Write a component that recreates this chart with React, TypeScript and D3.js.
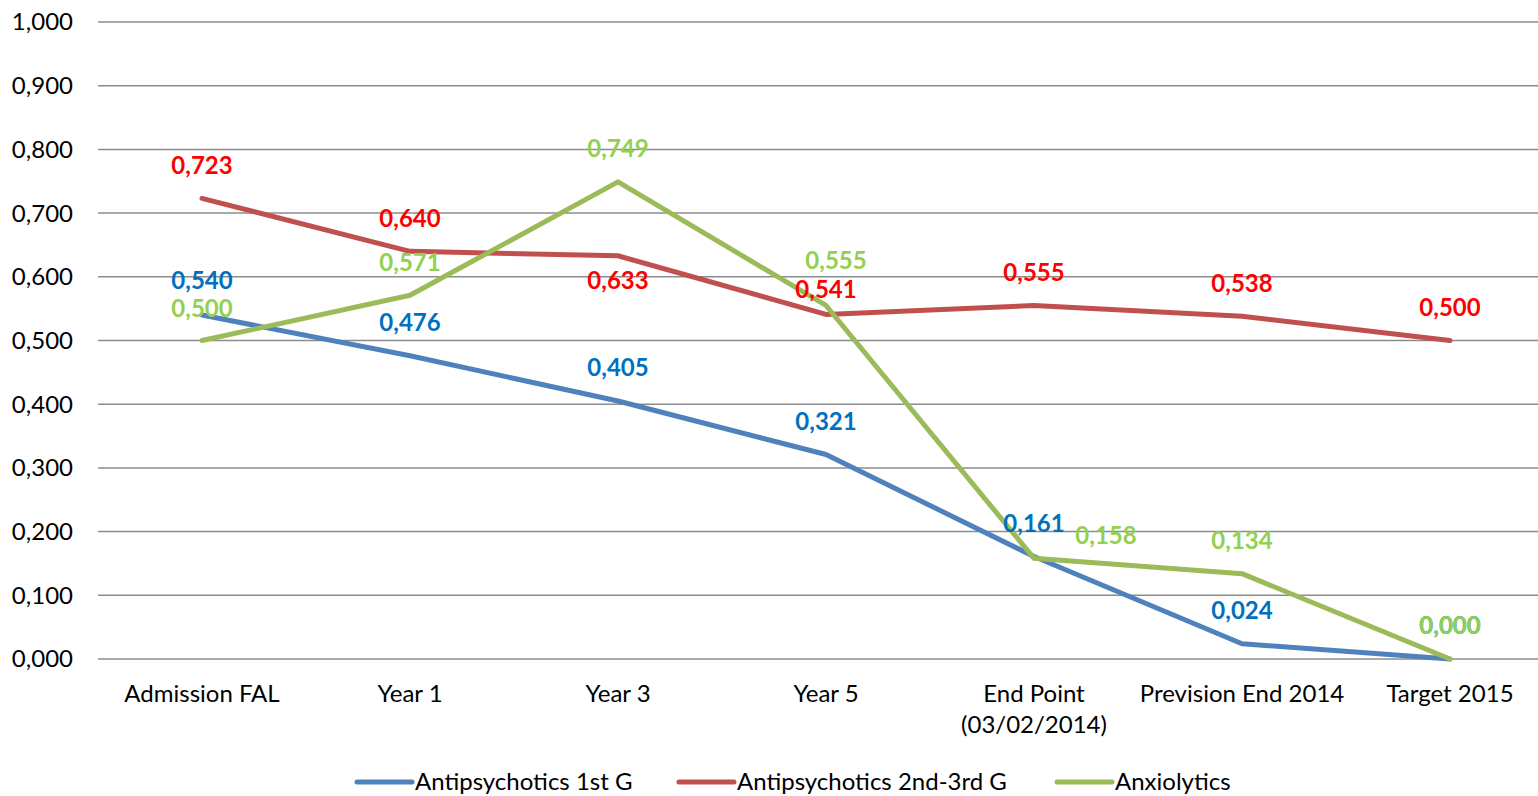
import React from "react";
import * as d3 from "d3";

const categories = ["Admission FAL", "Year 1", "Year 3", "Year 5", "End Point\n(03/02/2014)", "Prevision End 2014", "Target 2015"];
const seriesNames = ["Antipsychotics 1st G", "Antipsychotics 2nd-3rd G", "Anxiolytics"];
const ap1 = [0.540, 0.476, 0.405, 0.321, 0.161, 0.024, 0.000];
const ap23 = [0.723, 0.640, 0.633, 0.541, 0.555, 0.538, 0.500];
const anx = [0.500, 0.571, 0.749, 0.555, 0.158, 0.134, 0.000];
const yTicks = [0, 0.1, 0.2, 0.3, 0.4, 0.5, 0.6, 0.7, 0.8, 0.9, 1.0];

const lineColors = ["#4F81BD", "#C0504D", "#9BBB59"];
const labelColors = ["#0070C0", "#FF0000", "#92D050"];
// label offsets [dx, dy] relative to point (styling only)
const labelOffsets: [number, number][][] = [
  [[0, -34], [0, -33], [0, -33], [0, -33], [0, -33], [0, -33], [0, -33]],
  [[0, -33], [0, -33], [0, 25], [0, -25], [0, -33], [0, -33], [0, -33]],
  [[0, -32], [0, -33], [0, -33], [10, -45], [72, -23], [0, -33], [0, -33]],
];

const fmt = (v: number) => v.toFixed(3).replace(".", ",");
const fmtTick = (v: number) => (v >= 1 ? "1,000" : v.toFixed(3).replace(".", ","));

export default function App() {
  const W = 1538, H = 796;
  const left = 98, bandW = 208;
  const x = d3.scaleBand<string>().domain(categories).range([left, left + bandW * categories.length]);
  const y = d3.scaleLinear().domain([0, 1]).range([659, 22]);
  const cx = (c: string) => (x(c) as number) + x.bandwidth() / 2;
  const line = d3.line<number>().x((_, i) => cx(categories[i])).y((d) => y(d));
  const all = [ap1, ap23, anx];
  const font = "Lato, 'Open Sans', sans-serif";
  const fs = 24;
  const legendX = [357, 679, 1057];
  return (
    <svg width={W} height={H} style={{ position: "absolute", left: 0, top: 0, background: "#fff" }} fontFamily={font}>
      {yTicks.map((t) => (
        <g key={t}>
          <line x1={left} x2={W} y1={y(t)} y2={y(t)} stroke="#8c8c8c" strokeWidth={1.5} />
          <text x={73} y={y(t)} dy="0.35em" textAnchor="end" fontSize={fs} fill="#000">{fmtTick(t)}</text>
        </g>
      ))}
      {categories.map((c) => (
        <text key={c} x={cx(c)} y={694} textAnchor="middle" fontSize={fs} fill="#000">
          {c.split("\n").map((s, i) => (
            <tspan key={i} x={cx(c)} dy={i === 0 ? "0.35em" : 31}>{s}</tspan>
          ))}
        </text>
      ))}
      {all.map((vals, si) => (
        <path key={si} d={line(vals) as string} fill="none" stroke={lineColors[si]} strokeWidth={5} strokeLinejoin="round" strokeLinecap="round" />
      ))}
      {all.map((vals, si) =>
        vals.map((v, i) => (
          <text key={si + "-" + i} x={cx(categories[i]) + labelOffsets[si][i][0]} y={y(v) + labelOffsets[si][i][1]} dy="0.35em"
            textAnchor="middle" fontSize={fs} fontWeight="bold" fill={labelColors[si]}>{fmt(v)}</text>
        ))
      )}
      {seriesNames.map((n, i) => (
        <g key={n}>
          <line x1={legendX[i]} x2={legendX[i] + 55} y1={782} y2={782} stroke={lineColors[i]} strokeWidth={5} strokeLinecap="round" />
          <text x={legendX[i] + 58} y={782} dy="0.35em" fontSize={fs} fill="#000">{n}</text>
        </g>
      ))}
    </svg>
  );
}
